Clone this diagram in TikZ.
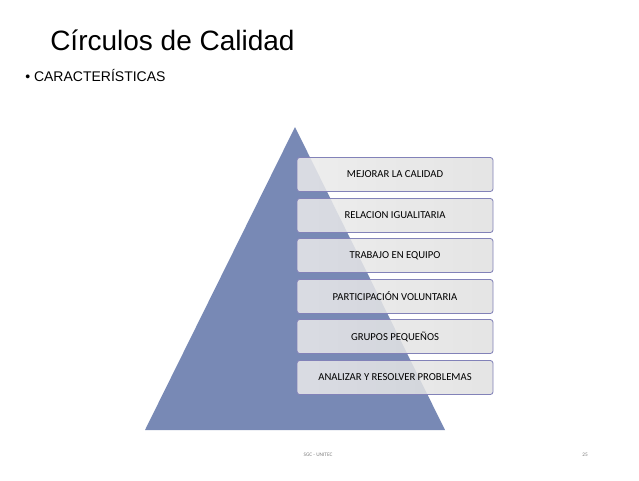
\documentclass[tikz,border=0pt]{standalone}
\usepackage{fontspec}
\setmainfont{Liberation Sans}
\newfontfamily\boxfont{Carlito}
\begin{document}
\begin{tikzpicture}[x=0.75pt,y=-0.75pt,
  itembox/.style={draw=black!25!blue!40!gray!70, line width=0.6pt, rounded corners=2pt,
    left color=white!92!black, right color=black!12, fill opacity=0.85, text opacity=1,
    minimum width=196*0.75pt, minimum height=34*0.75pt, inner sep=0pt, font=\boxfont\fontsize{8}{9}\selectfont},
  lbl/.style={inner sep=0pt, anchor=west}]
\useasboundingbox (0,0) rectangle (639,480);
\fill[white] (0,0) rectangle (639,480);
\node[lbl, font=\fontsize{21}{24}\selectfont] (title) at (50,40) {Círculos de Calidad};
\node[lbl, font=\fontsize{10.5}{12}\selectfont] (sub) at (25,75) {• CARACTERÍSTICAS};
\fill[fill=cyan!40!blue!55!white!80!black] (295,127) -- (445,430) -- (145,430) -- cycle;
\foreach \n/\y/\t in {a/174.5/MEJORAR LA CALIDAD, b/215.5/RELACION IGUALITARIA, c/255.5/TRABAJO EN EQUIPO, d/296.5/PARTICIPACIÓN VOLUNTARIA, e/336.5/GRUPOS PEQUEÑOS, f/377.5/ANALIZAR Y RESOLVER PROBLEMAS}
  \node[itembox] (\n) at (395,\y) {\t};
\node[font=\boxfont\fontsize{4}{5}\selectfont, text=gray] (foot) at (318,455) {SGC - UNITEC};
\node[font=\boxfont\fontsize{4}{5}\selectfont, text=gray] (num) at (585,455) {25};
\end{tikzpicture}
\end{document}
